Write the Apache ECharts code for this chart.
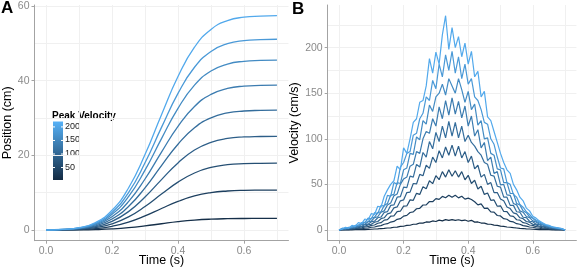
<!DOCTYPE html>
<html>
<head>
<meta charset="utf-8">
<script src="https://cdn.jsdelivr.net/npm/echarts@6/dist/echarts.min.js"></script>
<style>
  html, body { margin: 0; padding: 0; background: #fff; }
  #chart { width: 577px; height: 268px; }
</style>
</head>
<body>
<div id="chart"></div>
<script>
// time grids (s)
const timePos = [0, 0.05, 0.1, 0.15, 0.2, 0.25, 0.3, 0.35, 0.4, 0.45, 0.5, 0.55, 0.6, 0.65, 0.7];
const timeVel = [
  0, 0.01, 0.02, 0.03, 0.04, 0.05, 0.06, 0.07, 0.08, 0.09,
  0.1, 0.11, 0.12, 0.13, 0.14, 0.15, 0.16, 0.17, 0.18, 0.19,
  0.2, 0.21, 0.22, 0.23, 0.24, 0.25, 0.26, 0.27, 0.28, 0.29,
  0.3, 0.31, 0.32, 0.33, 0.34, 0.35, 0.36, 0.37, 0.38, 0.39,
  0.4, 0.41, 0.42, 0.43, 0.44, 0.45, 0.46, 0.47, 0.48, 0.49,
  0.5, 0.51, 0.52, 0.53, 0.54, 0.55, 0.56, 0.57, 0.58, 0.59,
  0.6, 0.61, 0.62, 0.63, 0.64, 0.65, 0.66, 0.67, 0.68, 0.69, 0.7
];

// peak velocity of each movement (colour variable)
const peakVelocity = [11, 37, 62, 87, 111, 135, 158, 181, 207];
const colourLimits = [4, 220];
const colourTicks = [50, 100, 150, 200];

// tick labels
const timeTicks = [0, 0.2, 0.4, 0.6];
const timeGrid = [0, 0.1, 0.2, 0.3, 0.4, 0.5, 0.6, 0.7];
const posTicks = [0, 20, 40, 60];
const posGrid = [0, 10, 20, 30, 40, 50, 60];
const velTicks = [0, 50, 100, 150, 200];
const velGrid = [0, 25, 50, 75, 100, 125, 150, 175, 200, 225];

// panel A: position (cm)
const pos1 = [0, 0.01, 0.03, 0.11, 0.29, 0.61, 1.09, 1.67, 2.22, 2.64, 2.90, 3.03, 3.08, 3.09, 3.1];
const pos2 = [0, 0.03, 0.12, 0.37, 0.98, 2.10, 3.77, 5.76, 7.66, 9.13, 10.02, 10.45, 10.63, 10.68, 10.7];
const pos3 = [0, 0.05, 0.20, 0.63, 1.65, 3.51, 6.30, 9.63, 12.82, 15.27, 16.75, 17.49, 17.77, 17.86, 17.9];
const pos4 = [0, 0.08, 0.28, 0.88, 2.31, 4.92, 8.84, 13.50, 17.97, 21.41, 23.49, 24.52, 24.92, 25.05, 25.1];
const pos5 = [0, 0.10, 0.35, 1.12, 2.95, 6.29, 11.30, 17.27, 22.98, 27.38, 30.05, 31.36, 31.88, 32.04, 32.1];
const pos6 = [0, 0.12, 0.43, 1.36, 3.57, 7.60, 13.66, 20.87, 27.78, 33.10, 36.32, 37.91, 38.53, 38.72, 38.8];
const pos7 = [0, 0.14, 0.50, 1.59, 4.19, 8.92, 16.02, 24.48, 32.58, 38.81, 42.59, 44.45, 45.18, 45.41, 45.5];
const pos8 = [0, 0.15, 0.56, 1.79, 4.70, 10.02, 17.99, 27.49, 36.59, 43.59, 47.83, 49.92, 50.74, 51.00, 51.1];
const pos9 = [0, 0.17, 0.63, 2.01, 5.28, 11.25, 20.20, 30.88, 41.10, 48.96, 53.73, 56.08, 57.00, 57.29, 57.4];

// panel B: velocity (cm/s)
const vel1 = [
  0, 0.1, 0.1, 0.2, 0.2, 0.3, 0.3, 0.5, 0.5, 0.7,
  0.8, 1.1, 1.2, 1.6, 1.7, 2.2, 2.4, 3.0, 3.2, 3.9,
  4.1, 5.0, 5.2, 6.3, 6.4, 7.6, 7.5, 8.8, 8.6, 9.9,
  9.3, 10.8, 10.0, 11.4, 10.5, 11.3, 10.6, 11.2, 10.2, 10.9,
  9.6, 10.6, 8.6, 8.8, 7.6, 7.6, 6.5, 6.3, 5.3, 5.1,
  4.3, 4.0, 3.3, 3.0, 2.5, 2.2, 1.8, 1.6, 1.2, 1.1,
  0.8, 0.7, 0.5, 0.5, 0.3, 0.3, 0.2, 0.2, 0.1, 0.1, 0
];
const vel2 = [
  0, 0.3, 0.4, 0.5, 0.8, 0.8, 1.2, 1.3, 1.9, 2.2,
  3.0, 3.3, 4.3, 4.8, 6.3, 6.9, 8.7, 9.4, 11.7, 12.4,
  15.2, 16.0, 19.2, 19.8, 23.3, 23.8, 27.4, 27.6, 31.2, 31.0,
  34.4, 33.6, 36.8, 35.4, 38.2, 35.8, 38.0, 35.2, 37.0, 33.8,
  35.0, 33.5, 31.0, 27.6, 28.6, 23.8, 24.0, 19.8, 19.6, 15.9,
  15.4, 12.4, 11.8, 9.4, 8.8, 6.9, 6.3, 4.8, 4.3, 3.3,
  3.0, 2.2, 1.9, 1.3, 1.2, 0.8, 0.8, 0.5, 0.4, 0.3, 0
];
const vel3 = [
  0, 0.5, 0.7, 0.9, 1.3, 1.4, 2.1, 2.3, 3.3, 3.6,
  5.1, 5.5, 7.4, 8.0, 10.8, 11.3, 15.1, 15.5, 20.2, 20.6,
  26.2, 26.3, 33.0, 32.5, 40.2, 39.0, 47.5, 45.3, 54.0, 50.8,
  59.5, 55.2, 64.0, 58.0, 66.0, 59.0, 65.0, 58.0, 64.0, 55.0,
  60.0, 51.0, 54.5, 45.0, 48.0, 39.0, 40.5, 32.5, 33.0, 26.0,
  26.5, 20.3, 20.2, 15.4, 15.0, 11.2, 10.8, 8.0, 7.4, 5.5,
  5.1, 3.6, 3.3, 2.3, 2.1, 1.4, 1.3, 0.9, 0.7, 0.5, 0
];
const vel4 = [
  0, 0.7, 0.9, 1.3, 1.6, 2.2, 2.6, 3.6, 4.1, 5.6,
  6.3, 8.6, 9.3, 12.4, 13.4, 17.6, 18.8, 24.2, 25.3, 32.0,
  33.0, 41.0, 41.5, 51.0, 50.5, 61.0, 59.5, 71.0, 67.5, 80.0,
  74.0, 87.0, 79.0, 91.0, 82.0, 93.0, 81.0, 92.0, 79.0, 86.0,
  74.0, 81.0, 67.0, 71.0, 58.0, 61.0, 50.0, 52.0, 41.0, 41.0,
  34.0, 32.0, 25.2, 23.5, 18.8, 17.6, 13.4, 12.4, 9.3, 8.6,
  6.3, 5.6, 4.1, 3.6, 2.6, 2.2, 1.6, 1.3, 0.9, 0.7, 0
];
const vel5 = [
  0, 0.8, 1.3, 1.5, 2.3, 2.6, 3.7, 4.1, 5.9, 6.4,
  9.1, 9.8, 13.4, 14.2, 19.3, 20.1, 27.0, 27.5, 36.0, 36.5,
  47, 46.5, 59, 58, 72, 69, 85, 80, 97, 89,
  107, 97, 114, 101, 119, 103, 118, 101, 114, 97,
  104, 96, 92, 86, 82, 74, 72, 60, 59, 48,
  47, 36, 36, 27, 27, 20, 19.5, 14, 13.5, 9.6,
  9, 6.4, 5.8, 4.1, 3.7, 2.6, 2.3, 1.5, 1.3, 0.8, 0
];
const vel6 = [
  0, 1.2, 1.4, 2.1, 2.5, 3.5, 4.0, 5.8, 6.3, 9.0,
  9.8, 13.5, 14.5, 19.5, 21.0, 27.5, 29.5, 37.5, 39.5, 50.0,
  56, 58, 70, 72, 86, 84, 100, 108, 106, 122,
  114, 135, 122, 142, 126, 145, 127, 141, 123, 136,
  114, 125, 103, 110, 90, 96, 76, 80, 62, 64,
  49.5, 50, 38.5, 38, 29, 27.5, 21, 19.5, 14.8, 13.5,
  10, 8.8, 6.5, 5.6, 4.1, 3.4, 2.5, 2, 1.4, 1.1, 0
];
const vel7 = [
  0, 1, 2, 2, 3.5, 3.5, 5.5, 6, 8.5, 9,
  13, 14, 19, 20, 27, 29, 38, 39, 52, 51,
  66, 68, 84, 83, 102, 99, 120, 116, 137, 130,
  146, 150, 160, 148, 166, 158, 150, 166, 154, 140,
  152, 132, 138, 115, 120, 100, 101, 84, 82, 67,
  66, 52, 52, 40, 40, 29, 27.5, 21, 19, 14.5,
  13, 9.5, 8, 6, 5, 3.8, 3, 2.2, 1.7, 1.2, 0
];
const vel8 = [
  0, 2, 1.5, 3, 3, 5, 5, 8, 8, 13,
  12, 19, 18, 27, 26, 38, 37, 52, 50, 69,
  74, 84, 86, 104, 106, 122, 128, 146, 142, 164,
  155, 182, 168, 192, 175, 196, 172, 190, 166, 182,
  160, 166, 146, 142, 132, 118, 116, 100, 94, 80,
  68, 67, 52, 50, 39, 36, 28, 25, 20, 17,
  13, 11, 9, 7, 5.5, 4.3, 3.4, 2.5, 2, 1.4, 0
];
const vel9 = [
  0, 1, 3, 2, 5, 4, 8, 7, 12, 11,
  18, 17, 26, 25, 37, 44, 50, 54, 70, 66,
  90, 84, 100, 118, 122, 140, 142, 158, 188, 172,
  195, 182, 214, 235, 198, 222, 200, 212, 190, 205,
  182, 196, 168, 174, 146, 152, 124, 120, 108, 96,
  84, 74, 66, 62, 50, 44, 36, 32, 24, 21,
  15, 13, 10, 8, 6, 5, 3.5, 3, 2, 1.5, 0
];

const positions = [pos1, pos2, pos3, pos4, pos5, pos6, pos7, pos8, pos9];
const velocities = [vel1, vel2, vel3, vel4, vel5, vel6, vel7, vel8, vel9];

const FONT = 'Liberation Sans, Arial, sans-serif';
const AXIS_GREY = '#a3a3a3';
const LABEL_GREY = '#8a8a8a';
const GRID_GREY = '#f0f0f0';

// ggplot default continuous gradient
const LOW = [0x13, 0x2b, 0x43];
const HIGH = [0x56, 0xb1, 0xf7];
function shade(v) {
  const t = Math.min(1, Math.max(0, (v - colourLimits[0]) / (colourLimits[1] - colourLimits[0])));
  const c = LOW.map((lo, k) => Math.round(lo + (HIGH[k] - lo) * t));
  return `rgb(${c[0]},${c[1]},${c[2]})`;
}

const xRange = { min: -0.035, max: 0.735 };
const posRange = { min: -2.87, max: 60.27 };
const velRange = { min: -11.75, max: 246.75 };

function mainX(gridIndex) {
  return {
    type: 'value', gridIndex, ...xRange,
    name: 'Time (s)', nameLocation: 'middle', nameGap: 13, nameMoveOverlap: false,
    nameTextStyle: { fontFamily: FONT, fontSize: 12.5, color: '#000', verticalAlign: 'top' },
    axisLine: { show: true, onZero: false, lineStyle: { color: AXIS_GREY, width: 1 } },
    axisTick: { show: true, length: 3, customValues: timeTicks, lineStyle: { color: AXIS_GREY } },
    axisLabel: {
      customValues: timeTicks, margin: 5, fontFamily: FONT, fontSize: 10.5, color: LABEL_GREY,
      formatter: (v) => v.toFixed(1),
    },
    splitLine: { show: false },
  };
}

function mainY(gridIndex, name, range, ticks, gap) {
  return {
    type: 'value', gridIndex, ...range,
    name, nameLocation: 'middle', nameGap: gap,
    nameTextStyle: { fontFamily: FONT, fontSize: 12.5, color: '#000' },
    axisLine: { show: true, onZero: false, lineStyle: { color: AXIS_GREY, width: 1 } },
    axisTick: { show: true, length: 3, customValues: ticks, lineStyle: { color: AXIS_GREY } },
    axisLabel: { customValues: ticks, margin: 5, fontFamily: FONT, fontSize: 10.5, color: LABEL_GREY },
    splitLine: { show: false },
  };
}

// axes that only draw the faint background grid
function gridAxis(gridIndex, range, values) {
  return {
    type: 'value', gridIndex, ...range,
    axisLine: { show: false },
    axisTick: { show: false, customValues: values },
    axisLabel: { show: false, customValues: values },
    splitLine: { show: true, lineStyle: { color: GRID_GREY, width: 1 } },
  };
}

const series = [];
positions.forEach((p, i) => {
  series.push({
    type: 'line', xAxisIndex: 0, yAxisIndex: 0,
    data: timePos.map((t, j) => [t, p[j]]),
    smooth: 0.5, symbol: 'none', silent: true,
    lineStyle: { width: 1.3, color: shade(peakVelocity[i]) },
  });
});
velocities.forEach((v, i) => {
  series.push({
    type: 'line', xAxisIndex: 1, yAxisIndex: 1,
    data: timeVel.map((t, j) => [t, v[j]]),
    symbol: 'none', silent: true,
    lineStyle: { width: 1.2, color: shade(peakVelocity[i]) },
  });
});

// colour bar legend (white box like ggplot's legend background)
const bar = { x: 53, y: 121.5, w: 10, h: 58.5 };
const barY = (v) => bar.y + (colourLimits[1] - v) / (colourLimits[1] - colourLimits[0]) * bar.h;
const legend = [
  { type: 'rect', shape: { x: 50, y: 109, width: 70, height: 74 }, style: { fill: '#fff' } },
  {
    type: 'text', x: 52, y: 111,
    style: { text: 'Peak Velocity', font: `bold 10px ${FONT}`, fill: '#000' },
  },
  {
    type: 'rect', shape: { x: bar.x, y: bar.y, width: bar.w, height: bar.h },
    style: {
      fill: new echarts.graphic.LinearGradient(0, 0, 0, 1, [
        { offset: 0, color: shade(colourLimits[1]) },
        { offset: 1, color: shade(colourLimits[0]) },
      ]),
    },
  },
];
colourTicks.forEach((v) => {
  const y = barY(v);
  legend.push(
    { type: 'line', shape: { x1: bar.x, y1: y, x2: bar.x + 2, y2: y }, style: { stroke: '#fff', lineWidth: 1 } },
    { type: 'line', shape: { x1: bar.x + bar.w - 2, y1: y, x2: bar.x + bar.w, y2: y }, style: { stroke: '#fff', lineWidth: 1 } },
    { type: 'text', x: 65, y: y - 5, style: { text: String(v), font: `9px ${FONT}`, fill: '#222' } }
  );
});

const chart = echarts.init(document.getElementById('chart'), null, { renderer: 'canvas' });
chart.setOption({
  animation: false,
  backgroundColor: '#fff',
  grid: [
    { left: 34.5, top: 5, width: 254, height: 235.7, outerBoundsMode: 'none', containLabel: false },
    { left: 327.7, top: 5, width: 248.7, height: 235.7, outerBoundsMode: 'none', containLabel: false },
  ],
  xAxis: [mainX(0), mainX(1), gridAxis(0, xRange, timeGrid), gridAxis(1, xRange, timeGrid)],
  yAxis: [
    mainY(0, 'Position (cm)', posRange, posTicks, 20),
    mainY(1, 'Velocity (cm/s)', velRange, velTicks, 18),
    gridAxis(0, posRange, posGrid),
    gridAxis(1, velRange, velGrid),
  ],
  series,
  graphic: [
    { type: 'text', x: 1, y: 0, style: { text: 'A', font: `bold 17px ${FONT}`, fill: '#000' } },
    { type: 'text', x: 292, y: 1, style: { text: 'B', font: `bold 17px ${FONT}`, fill: '#000' } },
    ...legend,
  ],
});
</script>
</body>
</html>
